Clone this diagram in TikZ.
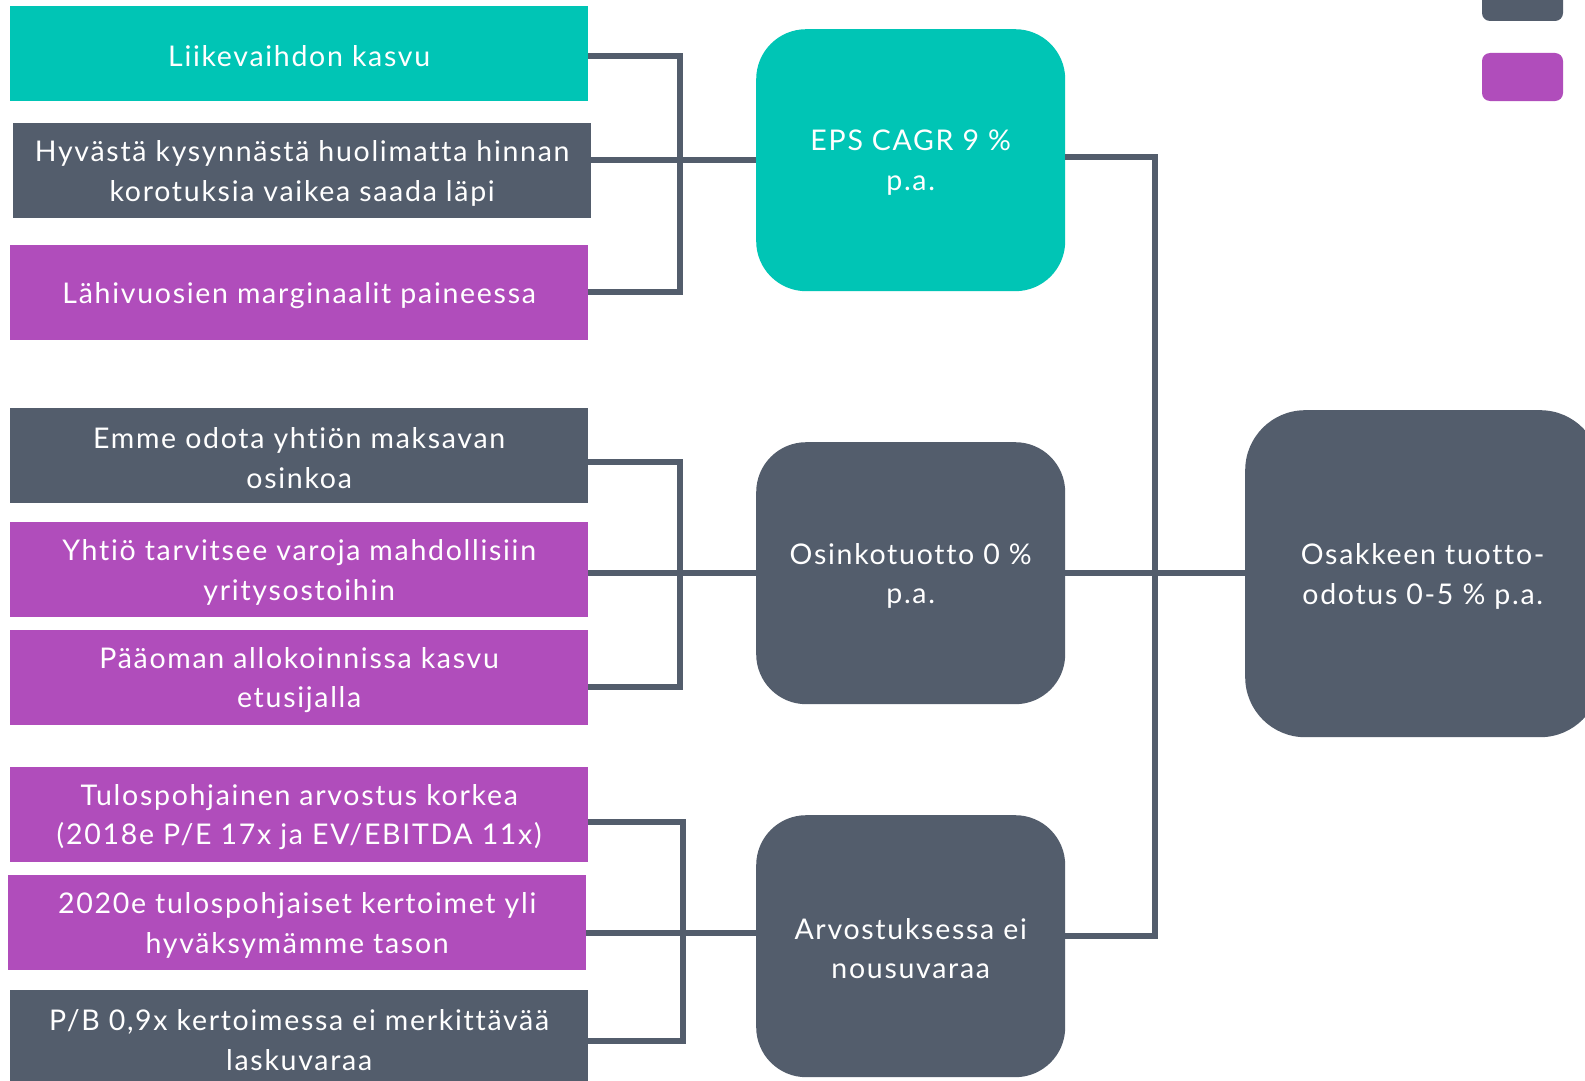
\documentclass[tikz,border=0pt]{standalone}
\usepackage{fontspec}
\setmainfont{Lato}[LetterSpace=6.0,Ligatures={NoCommon,NoContextual,NoRare}]
\definecolor{teal1}{HTML}{00C5B5}
\definecolor{slate}{HTML}{535D6C}
\definecolor{purp}{HTML}{B04DBB}
\begin{document}
\begin{tikzpicture}[x=1pt,y=-1pt,
  txt/.style={text=white,align=center,font=\fontsize{28.5}{39.5}\selectfont,inner sep=0pt,yshift=-2.5pt},
  leftbox/.style={anchor=north west,minimum width=578pt,minimum height=95pt,inner sep=0pt},
  roundbox/.style={anchor=north west,rounded corners=50pt,minimum width=309pt,minimum height=262pt,inner sep=0pt},
  conn/.style={draw=slate,line width=6.5pt,line join=miter}]
\useasboundingbox (0,0) rectangle (1585,1081);
\clip (0,0) rectangle (1585,1081);
\fill[white] (0,0) rectangle (1585,1081);
% legend
\fill[slate,rounded corners=8pt] (1482,-12) rectangle (1563,21);
\fill[purp,rounded corners=8pt] (1482,53) rectangle (1563,101);
% left boxes
\node[leftbox,fill=teal1] (b1) at (10,6) {};
\node[leftbox,fill=slate] (b2) at (13,123) {};
\node[leftbox,fill=purp] (b3) at (10,245) {};
\node[leftbox,fill=slate] (b4) at (10,408) {};
\node[leftbox,fill=purp] (b5) at (10,522) {};
\node[leftbox,fill=purp] (b6) at (10,630) {};
\node[leftbox,fill=purp] (b7) at (10,767) {};
\node[leftbox,fill=purp] (b8) at (8,875) {};
\node[leftbox,fill=slate,minimum height=100pt] (b9) at (10,990) {};
\node[txt] (t1) at (b1.center) {Liikevaihdon kasvu};
\node[txt] (t2) at (b2.center) {Hyvästä kysynnästä huolimatta hinnan\\korotuksia vaikea saada läpi};
\node[txt] (t3) at (b3.center) {Lähivuosien marginaalit paineessa};
\node[txt] (t4) at (b4.center) {Emme odota yhtiön maksavan\\osinkoa};
\node[txt] (t5) at (b5.center) {Yhtiö tarvitsee varoja mahdollisiin\\yritysostoihin};
\node[txt] (t6) at (b6.center) {Pääoman allokoinnissa kasvu\\etusijalla};
\node[txt] (t7) at (b7.center) {Tulospohjainen arvostus korkea\\(2018e P/E 17x ja EV/EBITDA 11x)};
\node[txt] (t8) at (b8.center) {2020e tulospohjaiset kertoimet yli\\hyväksymämme tason};
\node[txt] (t9) at ([yshift=2.5pt]b9.center) {P/B 0,9x kertoimessa ei merkittävää\\laskuvaraa};
% middle boxes
\node[roundbox,fill=teal1] (m1) at (756,29) {};
\node[roundbox,fill=slate] (m2) at (756,442) {};
\node[roundbox,fill=slate] (m3) at (756,815) {};
\node[txt] (u1) at (m1.center) {EPS CAGR 9 \%\\p.a.};
\node[txt] (u2) at (m2.center) {Osinkotuotto 0 \%\\p.a.};
\node[txt] (u3) at (m3.center) {Arvostuksessa ei\\nousuvaraa};
% right box
\node[anchor=north west,rounded corners=60pt,minimum width=355pt,minimum height=327pt,inner sep=0pt,fill=slate] (r) at (1245,410) {};
\node[txt] (ur) at (r.center) {Osakkeen tuotto-\\odotus 0-5 \% p.a.};
% coordinates
\coordinate (j1) at (680,56);
\coordinate (j2) at (680,292);
\coordinate (j3) at (680,462);
\coordinate (j4) at (680,687);
\coordinate (j5) at (683,822);
\coordinate (j6) at (683,1041);
\coordinate (k1) at (1155,157);
\coordinate (k2) at (1155,936);
% connectors top group
\draw[conn] (b1.east |- j1) -- (j1) -- (j2) -- (b3.east |- j2);
\draw[conn] (b2.east |- 0,160) -- (m1.west |- 0,160);
% middle group
\draw[conn] (b4.east |- j3) -- (j3) -- (j4) -- (b6.east |- j4);
\draw[conn] (b5.east |- 0,573) -- (m2.west |- 0,573);
% bottom group
\draw[conn] (b7.east |- j5) -- (j5) -- (j6) -- (b9.east |- j6);
\draw[conn] (b8.east |- 0,933) -- (m3.west |- 0,933);
% right connectors
\draw[conn] (m1.east |- k1) -- (k1) -- (k2) -- (m3.east |- k2);
\draw[conn] (m2.east |- 0,573) -- (r.west |- 0,573);
\end{tikzpicture}
\end{document}
